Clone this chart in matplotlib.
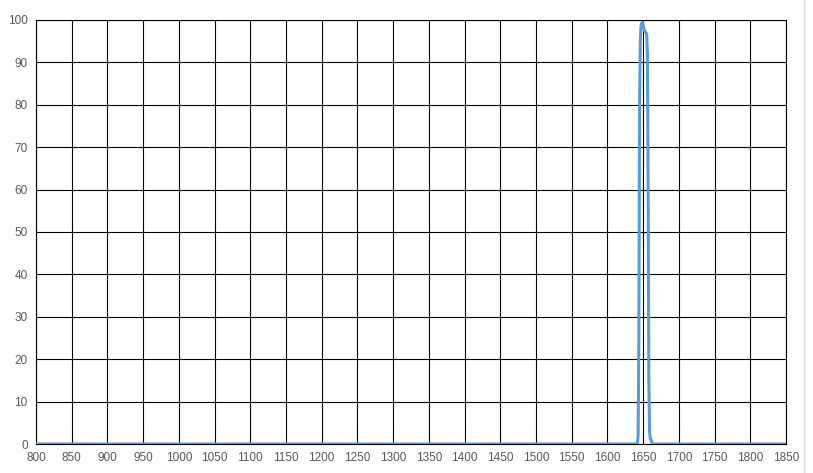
import matplotlib
matplotlib.use("Agg")
import matplotlib.pyplot as plt
from matplotlib.lines import Line2D

# Peak region data (wavelength, transmission %); zero elsewhere
peak_x = [1640, 1642, 1643, 1644, 1645, 1646, 1647, 1648, 1649, 1650, 1651, 1652,
          1653, 1654, 1655, 1656, 1657, 1658, 1659, 1660, 1661, 1662, 1663]
peak_y = [0, 0.3, 2, 25, 80, 95, 98.5, 99.3, 99.4, 98.8, 98.0, 97.5,
          97.2, 97.0, 96.6, 92, 60, 15, 3, 1.2, 1, 0.5, 0]
x_vals = [800] + peak_x + [1850]
y_vals = [0] + peak_y + [0]

x_ticks = list(range(800, 1851, 50))
y_ticks = list(range(0, 101, 10))

W, H = 813, 473
fig = plt.figure(figsize=(W / 100, H / 100), dpi=100)
ax = fig.add_axes([36 / W, (H - 444) / H, 750 / W, 424 / H])

ax.plot(x_vals, y_vals, color="#5B9BD5", lw=2.2, solid_joinstyle="round", zorder=3)

ax.set_xlim(800, 1850)
ax.set_ylim(0, 100)
ax.set_xticks(x_ticks)
ax.set_yticks(y_ticks)
ax.grid(True, color="black", lw=0.8, zorder=1)
ax.set_axisbelow(True)
for s in ax.spines.values():
    s.set_color("black")
    s.set_linewidth(0.8)
ax.tick_params(length=0, labelsize=8.5, labelcolor="#595959", pad=6)
for lab in ax.get_xticklabels() + ax.get_yticklabels():
    lab.set_family("Liberation Sans")

fig.add_artist(Line2D([804 / W, 804 / W], [0, 1], color="#D9D9D9", lw=1, transform=fig.transFigure))

fig.savefig("out.png", dpi=100)
